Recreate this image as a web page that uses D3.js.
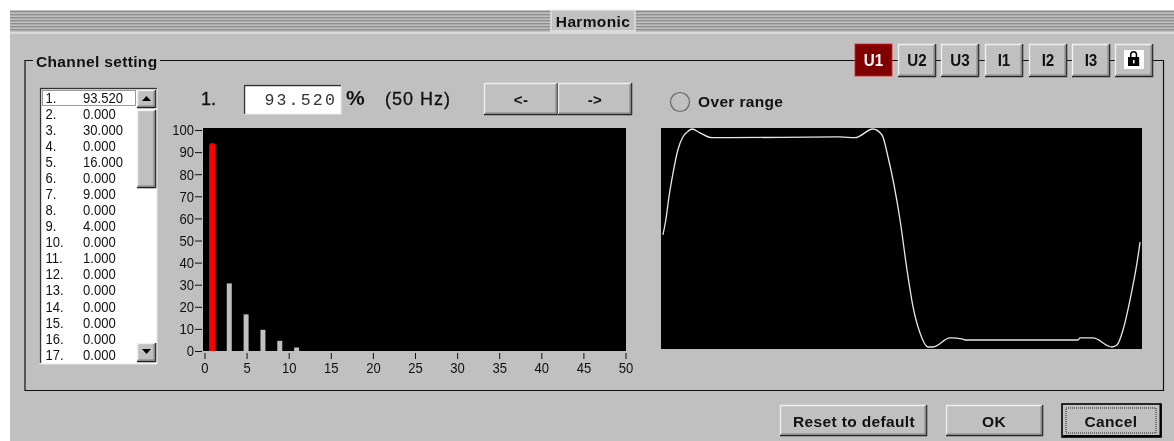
<!DOCTYPE html>
<html><head><meta charset="utf-8">
<script src="https://cdn.jsdelivr.net/npm/d3@7/dist/d3.min.js"></script>
<style>
html,body{margin:0;padding:0;background:#fff;overflow:hidden}
svg{display:block;font-family:"Liberation Sans",Arial,sans-serif;filter:blur(0.35px)}
.tick text{font-family:"Liberation Sans",Arial,sans-serif;font-size:15px;fill:#111}
</style></head><body><svg id="c" width="1174" height="441"></svg>
<script>
const harmonicOrders=[1,2,3,4,5,6,7,8,9,10,11,12,13,14,15,16,17];
const harmonicValues=[93.52,0,30,0,16,0,9,0,4,0,1,0,0,0,0,0,0];
const xTicks=[0,5,10,15,20,25,30,35,40,45,50];
const yTicks=[0,10,20,30,40,50,60,70,80,90,100];
const waveMs=[0.08,0.2,0.33,0.5,0.7,0.91,1.08,1.29,1.62,2.12,2.66,7.44,8.07,8.81,9.19,9.44,9.94,10.23,10.48,10.77,11.1,11.31,12.02,12.56,12.64,17.34,17.42,17.96,18.75,18.96,19.21,19.5,19.79,19.92];
const wavePct=[2.8,16.5,37.6,59.6,80.7,92.7,97,100,96.5,92,92,92.7,92,100,94.5,74.3,16.5,-29.4,-63.3,-87.2,-100,-100,-91.7,-92.7,-93.6,-93.6,-91.7,-91.7,-100,-98.2,-84.4,-56.9,-23,-3.7];
const channels=["U1","U2","U3","I1","I2","I3"];
const bg="#c0c0c0",ink="#111";
const svg=d3.select("#c");
function squeeze(sel,f){sel.each(function(){this.setAttribute("lengthAdjust","spacingAndGlyphs");this.setAttribute("textLength",this.getComputedTextLength()*f);});return sel;}
function rect(x,y,w,h,f,p){return (p||svg).append("rect").attr("x",x).attr("y",y).attr("width",w).attr("height",h).attr("fill",f);}
function line(x1,y1,x2,y2,c,w){return svg.append("line").attr("x1",x1).attr("y1",y1).attr("x2",x2).attr("y2",y2).attr("stroke",c||ink).attr("stroke-width",w||1.2);}
function text(s,x,y,o){o=o||{};const t=svg.append("text").attr("x",x).attr("y",y).attr("fill",o.fill||ink).attr("font-size",o.size||15.5).attr("font-weight",o.weight||"normal").attr("text-anchor",o.anchor||"start").attr("dominant-baseline","central").text(s);
 if(o.family)t.attr("font-family",o.family); t.attr("letter-spacing",o.spacing===undefined?(o.weight==="bold"?0.35:0):o.spacing); if(o.stroke)t.attr("stroke",ink).attr("stroke-width",o.stroke); return t;}
function button(x,y,w,h){
 rect(x,y,w,h,bg);
 line(x,y+.5,x+w,y+.5,"#f0f0f0",1.4);line(x+.5,y,x+.5,y+h,"#f0f0f0",1.4);
 line(x,y+h-.5,x+w,y+h-.5,"#222",1.6);line(x+w-.5,y,x+w-.5,y+h,"#333",1.6);
 line(x+1,y+h-2,x+w-1,y+h-2,"#808080",1);line(x+w-2,y+1,x+w-2,y+h-1,"#808080",1);
}
// window
rect(10,10,1164,431,bg);
svg.append("g").selectAll("rect").data(d3.range(11,32,3)).join("rect").attr("x",10).attr("y",d=>d).attr("width",1164).attr("height",1.4).attr("fill","#8f8f8f");
line(10,33,1174,33,"#f4f4f4",1.2);
rect(551,10,84,21,bg).attr("stroke","#ececec").attr("stroke-width",1.2);
text("Harmonic",593,21,{weight:"bold",anchor:"middle"});
// group box
svg.append("path").attr("d","M25 390.5V60.5H1163.5V390.5H25Z").attr("fill","none").attr("stroke",ink).attr("stroke-width",1.2);
rect(33,50,127,20,bg);
text("Channel setting",36,61,{weight:"bold"});
// channel buttons
const chX=[855,898,941,985,1029,1072];
channels.forEach((c,i)=>{
 if(i===0){rect(chX[i],44,37,32,"#800000").attr("stroke","#e02020").attr("stroke-width",.8);
  squeeze(text(c,chX[i]+18.5,60,{weight:"bold",anchor:"middle",fill:"#fff",size:16.5,spacing:0}),.92);}
 else{button(chX[i],44,38,33);squeeze(text(c,chX[i]+19,60,{weight:"bold",anchor:"middle",size:16.5,spacing:0}),.92);}
});
button(1115,44,38,33);
rect(1124,50,20,19,"#fff");
svg.append("path").attr("d","M1128 57h2v-2.5a3.6 3.6 0 0 1 7.2 0V57h2v9h-11.200z").attr("fill","#000");
svg.append("path").attr("d","M1131.500 57v-2.500a2.100 2.100 0 0 1 4.200 0V57z").attr("fill","#fff");
rect(1133,60,1.6,3.4,"#fff");
// list
rect(40,88,117,276,"#fff").attr("stroke","#e8e8e8");
line(40,88.5,157,88.500,"#333",1.4);line(40.500,88,40.500,363,"#333",1.4);
const rowY=d3.scaleLinear().domain([1,17]).range([97.2,354.2]);
squeeze(svg.append("g").selectAll("text").data(harmonicOrders).join("text").attr("x",45.5).attr("y",d=>rowY(d)).attr("dominant-baseline","central").attr("font-size",15).attr("fill",ink).text(d=>d+"."),.87);
squeeze(svg.append("g").selectAll("text").data(harmonicValues).join("text").attr("x",83).attr("y",(d,i)=>rowY(harmonicOrders[i])).attr("dominant-baseline","central").attr("font-size",15).attr("fill",ink).text(d=>d.toFixed(3)),.87);
rect(42.5,90.5,93,15,"none").attr("stroke","#333").attr("stroke-dasharray","1 1");
button(137,90,19,18);
svg.append("path").attr("d","M142 101h9l-4.500-5z").attr("fill","#000");
button(137,110,19,78);
button(137,343,19,19);
svg.append("path").attr("d","M142 349h9l-4.500 5z").attr("fill","#000");
// value readout
text("1.",201,99,{size:18,stroke:.3});
rect(244,85,97,29,"#fff").attr("stroke","#ececec");
line(244,85.500,341,85.500,"#333",1.4);line(244.500,85,244.500,114,"#333",1.4);
text("93.520",337,100,{anchor:"end",family:"'Liberation Mono',monospace",size:16.5,spacing:2.2,fill:"#333"});
text("%",346,97,{size:21,weight:"bold",spacing:0});
text("(50 Hz)",385,99,{size:18,stroke:.3,spacing:1});
button(484,83,74,32);button(558,83,74,32);
text("<-",521,99,{weight:"bold",anchor:"middle",size:15});
text("->",595,99,{weight:"bold",anchor:"middle",size:15});
// over range
svg.append("circle").attr("cx",680).attr("cy",102).attr("r",9.500).attr("fill",bg).attr("stroke","#666").attr("stroke-width",1.2);
text("Over range",698,101,{weight:"bold"});
// bar chart
rect(203,128,423,223,"#000");
const x=d3.scaleLinear().domain([0,50]).range([204.5,625.5]);
const y=d3.scaleLinear().domain([0,100]).range([351,130]);
const gx=svg.append("g").attr("transform","translate(0,353)").call(d3.axisBottom(x).tickValues(xTicks).tickSize(6).tickPadding(3));
gx.select(".domain").remove();
const gy=svg.append("g").attr("transform","translate(202,0)").call(d3.axisLeft(y).tickValues(yTicks).tickSize(7).tickPadding(1));
gy.select(".domain").remove();
svg.selectAll(".tick line").attr("stroke",ink).attr("stroke-width",1);
squeeze(svg.selectAll(".tick text"),.87);
const bars=harmonicOrders.map((o,i)=>({o,v:harmonicValues[i]})).filter(d=>d.v>0);
svg.append("g").selectAll("path").data(bars).join("path")
 .attr("fill",(d,i)=>i===0?"#ff0000":"#c0c0c0")
 .attr("d",(d,i)=>{const w=i===0?6.4:5,l=x(d.o)-.5-w/2,t=y(d.v)-1.3,b=y(0);
   return i===0?`M${l} ${b}V${t+w/2}A${w/2} ${w/2} 0 0 1 ${l+w} ${t+w/2}V${b}Z`:`M${l} ${b}V${t}h${w}V${b}Z`;});
// waveform
rect(661,128,481,221,"#000");
const wx=d3.scaleLinear().domain([0,20]).range([661,1142]);
const wy=d3.scaleLinear().domain([-100,100]).range([347,129]);
svg.append("path").attr("fill","none").attr("stroke","#e8e8e8").attr("stroke-width",1.3)
 .attr("d",d3.line().x(d=>wx(d[0])).y(d=>wy(d[1])).curve(d3.curveMonotoneX)(waveMs.map((m,i)=>[m,wavePct[i]])));
// bottom buttons
button(780,405,147,31);text("Reset to default",854,421,{weight:"bold",anchor:"middle"});
button(946,405,97,31);text("OK",994,421,{weight:"bold",anchor:"middle"});
rect(1062,404,99,33,bg).attr("stroke","#000").attr("stroke-width",1.6);
line(1063,436,1161,436,"#000",2);line(1160.500,404,1160.500,437,"#000",2);
rect(1066,408,90,25,"none").attr("stroke","#222").attr("stroke-dasharray","1 1");
text("Cancel",1111,421,{weight:"bold",anchor:"middle"});
</script></body></html>
